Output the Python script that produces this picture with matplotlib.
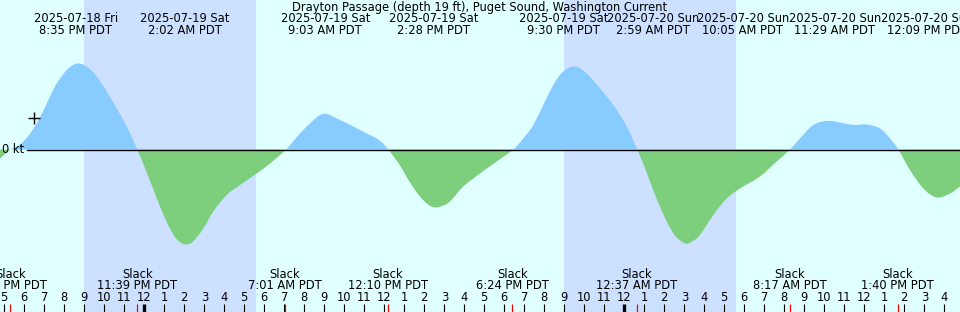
import matplotlib
matplotlib.use("Agg")
import matplotlib.pyplot as plt
from matplotlib.path import Path
from matplotlib.patches import PathPatch, Rectangle
import numpy as np
import pandas as pd

# ---------------- data ----------------
title = "Drayton Passage (depth 19 ft), Puget Sound, Washington Current"
ref_midnight = pd.Timestamp("2025-07-19 00:00")

# current speed (kt, + = flood, - = ebb) vs hours after 2025-07-19 00:00 PDT
hours = [-7.215, -6.965, -6.69, -6.215, -5.865, -5.565, -5.25, -4.965, -4.715, -4.465,
         -4.215, -3.80, -3.35, -2.88, -2.38, -1.88, -1.38, -0.88, -0.35, 0.12,
         0.435, 0.785, 1.085, 1.335, 1.635, 2.035, 2.435, 2.95, 3.45, 4.12, 4.785, 5.62,
         6.285, 7.085, 7.785, 8.385, 8.785, 9.12, 9.785, 10.45, 11.12, 11.62,
         11.935, 12.2, 12.785, 13.285, 13.785, 14.185, 14.535, 14.885, 15.285, 15.95,
         16.785, 17.62, 18.45, 18.95, 19.45, 19.95, 20.45, 20.95, 21.535, 22.12,
         22.785, 23.45, 24.12, 24.65, 25.12, 25.45, 25.785, 26.12, 26.535, 27.035, 27.385,
         27.785, 28.45, 29.12, 29.785, 30.785, 31.62, 32.285, 32.785, 33.45, 34.12,
         34.785, 35.45, 36.12, 36.785, 37.285, 37.70, 38.285, 38.95, 39.62, 40.285,
         40.785]
speed_kt = [-0.18, -0.09, 0.0, 0.10, 0.24, 0.40, 0.62, 0.84, 1.06, 1.26,
            1.42, 1.62, 1.72, 1.66, 1.46, 1.16, 0.82, 0.46, 0.0, -0.46,
            -0.78, -1.14, -1.42, -1.62, -1.80, -1.90, -1.84, -1.58, -1.24, -0.91, -0.71, -0.48,
            -0.28, 0.0, 0.32, 0.56, 0.69, 0.71, 0.59, 0.46, 0.32, 0.22,
            0.12, 0.0, -0.32, -0.66, -0.94, -1.10, -1.16, -1.13, -1.04, -0.74,
            -0.48, -0.24, 0.0, 0.22, 0.49, 0.89, 1.29, 1.56, 1.66, 1.52,
            1.22, 0.89, 0.46, 0.0, -0.46, -0.82, -1.14, -1.44, -1.72, -1.88, -1.84,
            -1.71, -1.31, -0.98, -0.78, -0.54, -0.24, 0.0, 0.22, 0.49, 0.57,
            0.54, 0.49, 0.50, 0.42, 0.22, 0.0, -0.41, -0.78, -0.96, -0.88,
            -0.74]

# max / min current events (top labels)
event_times = ["2025-07-18 20:35", "2025-07-19 02:02", "2025-07-19 09:03",
               "2025-07-19 14:28", "2025-07-19 21:30", "2025-07-20 02:59",
               "2025-07-20 10:05", "2025-07-20 11:29", "2025-07-20 12:09"]
# slack events (bottom labels)
slack_times = ["2025-07-18 17:18", "2025-07-18 23:39", "2025-07-19 07:01",
               "2025-07-19 12:10", "2025-07-19 18:24", "2025-07-20 00:37",
               "2025-07-20 08:17", "2025-07-20 13:40"]
# night periods (sunset, sunrise)
nights = [("2025-07-18 20:59", "2025-07-19 05:35"),
          ("2025-07-19 20:59", "2025-07-20 05:35")]
now_time = "2025-07-18 18:29"
now_speed = 0.63

x_range = (-7.215, 40.785)

# ---------------- layout / style ----------------
# horizontal label shifts (hours) so crowded top labels do not overlap
label_shift_h = [0, 0, 0, 0, -0.52, -1.55, -4.15, -0.95, 3.0]
C_DAY = "#e0ffff"
C_NIGHT = "#cce0ff"
C_FLOOD = "#87cbff"
C_EBB = "#7dcf7d"
FS = 8.3
W, H = 960, 312


def to_h(s):
    return (pd.Timestamp(s) - ref_midnight).total_seconds() / 3600.0


def fmt_time(ts):
    h12 = ts.hour % 12 or 12
    ampm = "AM" if ts.hour < 12 else "PM"
    return f"{h12}:{ts.minute:02d} {ampm} PDT"


def fy(py):  # pixel-from-top -> axes fraction
    return 1 - py / H


def curve_path(x, y):
    """Closed path: smooth (Catmull-Rom as cubic Bezier) curve through points, back along 0."""
    P = np.column_stack([x, y])
    n = len(P)
    verts = [(x[0], 0.0), tuple(P[0])]
    codes = [Path.MOVETO, Path.LINETO]
    for i in range(n - 1):
        p0 = P[max(i - 1, 0)]
        p1 = P[i]
        p2 = P[i + 1]
        p3 = P[min(i + 2, n - 1)]
        c1 = p1 + (p2 - p0) / 6.0
        c2 = p2 - (p3 - p1) / 6.0
        verts += [tuple(c1), tuple(c2), tuple(p2)]
        codes += [Path.CURVE4] * 3
    verts += [(x[-1], 0.0), (x[0], 0.0)]
    codes += [Path.LINETO, Path.CLOSEPOLY]
    return Path(verts, codes)


plt.rcParams['font.family'] = ['DejaVu Sans']
fig = plt.figure(figsize=(W / 100, H / 100), dpi=100)
ax = fig.add_axes([0, 0, 1, 1])
ax.set_facecolor(C_DAY)
ax.set_xlim(*x_range)
zero_px = 149.5
px_per_kt = 50.0
ylo, yhi = -(H - zero_px) / px_per_kt, zero_px / px_per_kt
ax.set_ylim(ylo, yhi)
ax.axis("off")
fig.patch.set_facecolor(C_DAY)
ax.add_patch(Rectangle((0, 0), 1, 1, transform=ax.transAxes, color=C_DAY, zorder=0))

for s, e in nights:
    ax.axvspan(to_h(s), to_h(e), color=C_NIGHT, lw=0, zorder=1)

t = np.array(hours)
v = np.array(speed_kt)
path = curve_path(t, v)
span = x_range[1] - x_range[0]
for color, (y0, hgt) in ((C_FLOOD, (0, yhi)), (C_EBB, (ylo, -ylo))):
    patch = PathPatch(path, facecolor=color, edgecolor="none", lw=0, zorder=2)
    ax.add_patch(patch)
    clip = Rectangle((x_range[0] - 1, y0), span + 2, hgt, transform=ax.transData,
                     facecolor="none", edgecolor="none")
    ax.add_patch(clip)
    patch.set_clip_path(clip)

# zero line and label
ax.axhline(0, xmin=27 / W, xmax=1, color="black", lw=1.0, zorder=3)
ax.text(24 / W, fy(zero_px), "0 kt", transform=ax.transAxes, ha="right", va="center",
        fontsize=FS, zorder=4)

# now marker
ax.plot([to_h(now_time)], [now_speed], marker="+", color="black", ms=9, mew=1, zorder=4)

# title
ax.text(0.5, fy(7), title, transform=ax.transAxes, ha="center", va="center", fontsize=FS)

xt = ax.get_xaxis_transform()
# event labels
for s, sh in zip(event_times, label_shift_h):
    ts = pd.Timestamp(s)
    x = to_h(s) + sh
    ax.text(x, fy(18.5), ts.strftime("%Y-%m-%d %a"), transform=xt, ha="center",
            va="center", fontsize=FS, zorder=5)
    ax.text(x, fy(31), fmt_time(ts), transform=xt, ha="center", va="center",
            fontsize=FS, zorder=5)

# slack labels
for s in slack_times:
    ts = pd.Timestamp(s)
    x = to_h(s)
    ax.text(x, fy(274), "Slack", transform=xt, ha="center", va="center", fontsize=FS, zorder=5)
    ax.text(x, fy(285.5), fmt_time(ts), transform=xt, ha="center", va="center",
            fontsize=FS, zorder=5)
    ax.plot([x, x], [fy(304), 0], transform=xt, color="red", lw=0.9, zorder=5,
            solid_capstyle="butt")

# hour ticks
for hh in range(int(np.ceil(x_range[0])), int(np.floor(x_range[1])) + 1):
    lab = hh % 12 or 12
    ax.text(hh, fy(297.5), str(lab), transform=xt, ha="center", va="center",
            fontsize=FS, zorder=5)
    lw = 2.4 if hh % 24 == 0 else 0.8
    ax.plot([hh, hh], [fy(304), 0], transform=xt, color="black", lw=lw, zorder=5,
            solid_capstyle="butt")

fig.savefig("out.png", dpi=100, facecolor=C_DAY)
